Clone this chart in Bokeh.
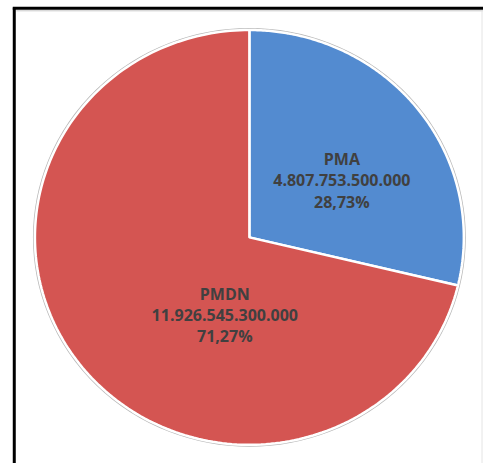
import numpy as np
from bokeh.plotting import figure
from bokeh.models import Range1d, ColumnDataSource
from bokeh.core.properties import value
from bokeh.embed import file_html
from bokeh.resources import INLINE

# data
categories = ["PMA", "PMDN"]
amounts = ["4.807.753.500.000", "11.926.545.300.000"]
percents = [28.73, 71.27]
colors = ["#538BD0", "#D45552"]

W, H = 483, 463
p = figure(width=W, height=H, output_backend="svg", toolbar_location=None,
           x_range=Range1d(0, 491), y_range=Range1d(0, 471),
           min_border=0, outline_line_color=None)
p.axis.visible = False
p.grid.visible = False
p.background_fill_color = "white"
p.border_fill_color = "white"

# frame
p.segment(x0=[14], y0=[471 - 7], x1=[14], y1=[0], line_color="black", line_width=3)
p.segment(x0=[12.5], y0=[471 - 8], x1=[491], y1=[471 - 8], line_color="black", line_width=3)
p.segment(x0=[16], y0=[471 - 10.5], x1=[491], y1=[471 - 10.5], line_color="#C8C8C8", line_width=1)
p.segment(x0=[489.5], y0=[471 - 10], x1=[489.5], y1=[0], line_color="#E4E4E4", line_width=1)

cx, cy = 253.0, 471 - 241.0
rx, ry = 218.0, 211.0

total = sum(percents)
start = np.pi / 2
xs_list, ys_list = [], []
for i, pct in enumerate(percents):
    sweep = 2 * np.pi * pct / total
    a = np.linspace(start, start - sweep, 200)
    xs = np.concatenate([[cx], cx + rx * np.cos(a), [cx]])
    ys = np.concatenate([[cy], cy + ry * np.sin(a), [cy]])
    xs_list.append(xs.tolist())
    ys_list.append(ys.tolist())
    start -= sweep

src = ColumnDataSource(dict(xs=xs_list, ys=ys_list, color=colors))
# outer light gray rim
p.ellipse(x=[cx], y=[cy], width=[2 * rx + 2], height=[2 * ry + 2], fill_color=None,
          line_color="#B8B8B8", line_width=2)
p.patches(xs="xs", ys="ys", fill_color="color", line_color="white", line_width=2.5, source=src)

# labels
label_pos = [(347, 471 - 183), (228, 471 - 320)]
for (lx, ly), cat, amt, pct in zip(label_pos, categories, amounts, percents):
    pct_s = f"{pct:.2f}".replace(".", ",") + "%"
    lines = [cat, amt, pct_s]
    for k, t in enumerate(lines):
        p.text(x=[lx], y=[ly + (1 - k) * 21.5], text=[t], text_align="center",
               text_baseline="middle", text_font=value("Open Sans"),
               text_font_style="bold", text_font_size="16px", text_color="#404040")

open("out.html", "w").write(file_html(p, INLINE))
